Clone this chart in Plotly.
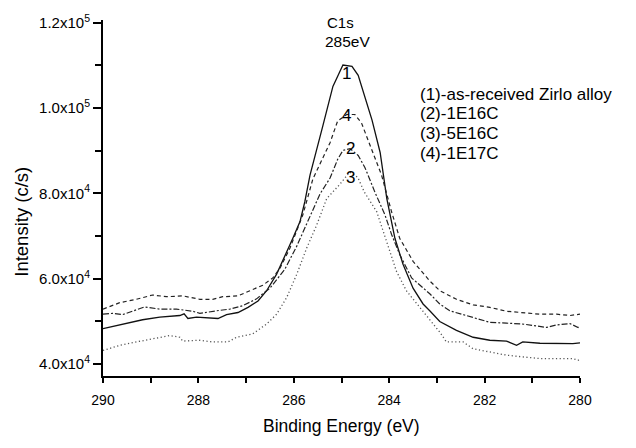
import plotly.graph_objects as go

# ---- data ----
e1 = [290.00, 289.72, 289.51, 289.17, 288.81, 288.39, 288.30, 288.22, 288.04, 287.59, 287.41, 287.17,
      286.96, 286.75, 286.57, 286.36, 286.02, 285.87, 285.77, 285.66, 285.39, 285.18, 284.97, 284.78,
      284.65, 284.51, 284.36, 284.19, 284.05, 283.88, 283.71, 283.50, 283.29, 283.15, 282.94, 282.59,
      282.24, 281.89, 281.54, 281.33, 281.20, 280.84, 280.49, 280.15, 280.00]
i1 = [48300, 49000, 49600, 50400, 51000, 51400, 51800, 50700, 51000, 50700, 51600, 52100,
      53300, 54800, 57200, 61100, 69500, 73400, 78000, 84300, 95900, 105100, 110100, 109800,
      107700, 102800, 97200, 89600, 78800, 69500, 63400, 57800, 54100, 52500, 50000, 47900,
      46300, 45600, 45400, 44400, 45200, 44900, 44800, 44800, 45000]

e2 = [290.00, 289.80, 289.59, 289.38, 289.13, 288.81, 288.46, 288.12, 287.97, 287.62, 287.34, 287.07,
      286.78, 286.50, 286.29, 286.19, 285.94, 285.71, 285.45, 285.24, 285.08, 284.97, 284.82, 284.65,
      284.51, 284.40, 284.30, 284.09, 283.95, 283.78, 283.53, 283.15, 282.94, 282.73, 282.45, 282.24,
      281.89, 281.54, 281.20, 280.70, 280.49, 280.21, 280.04, 280.00]
i2 = [51700, 51900, 51600, 52500, 53400, 52900, 52900, 52400, 51900, 52500, 52900, 53700,
      55300, 57800, 60600, 62200, 67600, 73400, 79900, 83600, 88000, 90100, 90500, 88900,
      86100, 83100, 80300, 75000, 70400, 65700, 60200, 56500, 54100, 52500, 51600, 51000,
      49800, 49600, 49400, 48600, 49200, 49500, 48600, 49000]

e3 = [290.00, 289.65, 289.30, 288.96, 288.60, 288.39, 288.33, 287.97, 287.70, 287.38, 287.20, 286.86,
      286.57, 286.36, 286.15, 285.94, 285.73, 285.52, 285.31, 285.03, 284.83, 284.66, 284.52, 284.26,
      284.05, 283.85, 283.64, 283.36, 283.15, 282.94, 282.80, 282.45, 282.24, 281.89, 281.54, 281.20,
      280.84, 280.49, 280.15, 280.04, 280.00]
i3 = [43200, 44400, 45200, 46000, 46700, 46300, 45400, 45600, 45200, 45200, 46300, 47100,
      49400, 51700, 55600, 61000, 67200, 72600, 78800, 82200, 85000, 83800, 80300, 75700,
      68700, 61800, 57200, 53300, 50200, 47500, 45200, 45200, 43600, 42900, 42100, 41700,
      41300, 41300, 41300, 40900, 41300]

e4 = [290.00, 289.65, 289.30, 288.96, 288.67, 288.33, 287.97, 287.70, 287.49, 287.17, 286.92, 286.65,
      286.44, 286.29, 286.08, 285.81, 285.60, 285.24, 285.08, 284.89, 284.72, 284.58, 284.45, 284.26,
      284.16, 283.95, 283.78, 283.50, 283.15, 282.94, 282.59, 282.24, 281.89, 281.54, 281.20, 280.84,
      280.49, 280.21, 280.00]
i4 = [52900, 54400, 55200, 56200, 55800, 56000, 55200, 55200, 55800, 56000, 57200, 58500,
      60200, 62500, 67200, 75000, 83400, 91900, 97000, 98500, 98500, 96500, 92700, 87300,
      84300, 75700, 69500, 64100, 59500, 57200, 55200, 53900, 53300, 52400, 52100, 51700,
      51700, 51400, 51700]

series_names = ["1", "2", "3", "4"]
legend_lines = ["(1)-as-received Zirlo alloy", "(2)-1E16C", "(3)-5E16C", "(4)-1E17C"]
peak_label_pos = [(284.89, 108100), (284.82, 90600), (284.82, 83700), (284.89, 98200)]

x_tickvals = [290, 288, 286, 284, 282, 280]
x_ticktext = ["290", "288", "286", "284", "282", "280"]
y_tickvals = [40000, 60000, 80000, 100000, 120000]
y_ticktext = ["4.0x10<sup>4</sup>", "6.0x10<sup>4</sup>", "8.0x10<sup>4</sup>",
              "1.0x10<sup>5</sup>", "1.2x10<sup>5</sup>"]

FONT = "Liberation Sans, Arial, Helvetica, sans-serif"

styles = [
    dict(color="#111111", width=1.3, dash="solid"),
    dict(color="#222222", width=1.2, dash="6px,2px,2px,2px"),
    dict(color="#555555", width=1.3, dash="1.2px,2.5px"),
    dict(color="#222222", width=1.2, dash="4px,3px"),
]

fig = go.Figure()
for xs, ys, st, nm in zip([e1, e2, e3, e4], [i1, i2, i3, i4], styles, series_names):
    fig.add_trace(go.Scatter(x=xs, y=ys, mode="lines", line=st, name=nm,
                             showlegend=False, hoverinfo="skip"))

annotations = []
# peak labels
for nm, (px, py) in zip(series_names, peak_label_pos):
    annotations.append(dict(x=px, y=py, xref="x", yref="y", text=nm, showarrow=False,
                            font=dict(family=FONT, size=17, color="black"),
                            xanchor="center", yanchor="middle"))
# legend text
leg_y = [0.7917, 0.7361, 0.6806, 0.6250]
for txt, yy in zip(legend_lines, leg_y):
    annotations.append(dict(x=0.6604, y=yy, xref="paper", yref="paper", text=txt,
                            showarrow=False, xanchor="left", yanchor="middle",
                            font=dict(family=FONT, size=17, color="black")))
# C1s labels
annotations.append(dict(x=0.4654, y=0.993, xref="paper", yref="paper", text="C1s",
                        showarrow=False, xanchor="left", yanchor="middle",
                        font=dict(family=FONT, size=15, color="black")))
annotations.append(dict(x=0.4612, y=0.940, xref="paper", yref="paper", text="285eV",
                        showarrow=False, xanchor="left", yanchor="middle",
                        font=dict(family=FONT, size=15.5, color="black")))
# axis titles
annotations.append(dict(x=0.5, y=-0.1417, xref="paper", yref="paper", text="Binding Energy (eV)",
                        showarrow=False, xanchor="center", yanchor="middle",
                        font=dict(family=FONT, size=17.5, color="black")))
annotations.append(dict(x=-0.170, y=0.433, xref="paper", yref="paper", text="Intensity (c/s)",
                        showarrow=False, xanchor="center", yanchor="middle", textangle=-90,
                        font=dict(family=FONT, size=18.5, color="black")))

fig.update_layout(
    width=636, height=448,
    margin=dict(l=103, r=56, t=16, b=72),
    paper_bgcolor="white", plot_bgcolor="white",
    font=dict(family=FONT, color="black", size=14),
    annotations=annotations,
    xaxis=dict(range=[290, 280], showgrid=False, zeroline=False,
               showline=True, linecolor="black", linewidth=2,
               ticks="outside", ticklen=5, tickwidth=1.5, tickcolor="black",
               tickmode="array", tickvals=x_tickvals, ticktext=x_ticktext,
               tickfont=dict(family=FONT, size=14, color="black"),
               ticklabelstandoff=5,
               minor=dict(tickmode="linear", tick0=0, dtick=1, ticks="outside",
                          ticklen=5, tickwidth=1.5, tickcolor="black", showgrid=False)),
    yaxis=dict(range=[37220, 120650], showgrid=False, zeroline=False,
               showline=True, linecolor="black", linewidth=2,
               ticks="outside", ticklen=8, tickwidth=1.5, tickcolor="black",
               tickmode="array", tickvals=y_tickvals, ticktext=y_ticktext,
               tickfont=dict(family=FONT, size=15, color="black"),
               minor=dict(tickmode="linear", tick0=0, dtick=10000, ticks="outside",
                          ticklen=6, tickwidth=1.5, tickcolor="black", showgrid=False)),
)

fig.write_html("out.html")
